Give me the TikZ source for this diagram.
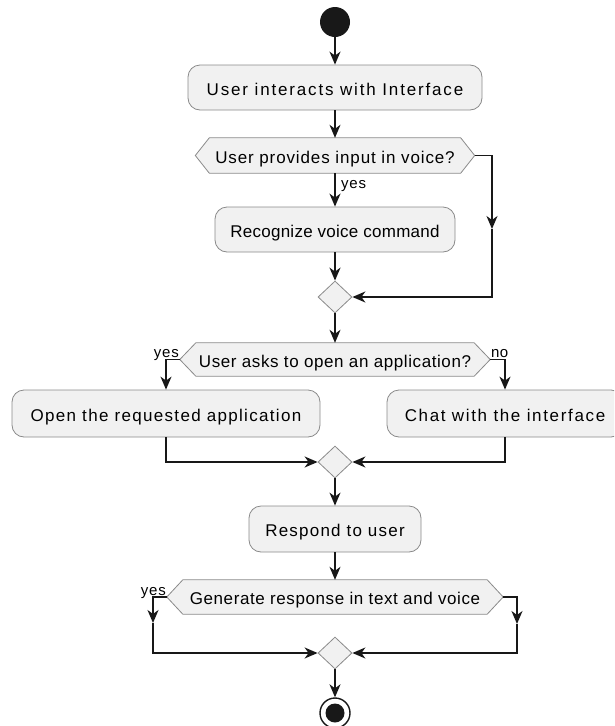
\documentclass[tikz,border=0pt]{standalone}
\usepackage{fontspec}
\setmainfont{Liberation Sans}
\usetikzlibrary{arrows.meta,shapes.geometric,backgrounds}

\definecolor{actfill}{HTML}{F1F1F1}
\definecolor{actline}{HTML}{8A8A8A}
\definecolor{flowc}{HTML}{181818}

% letter-spaced text
\newcommand{\lsp}[2]{{\addfontfeatures{LetterSpace=#1}#2}}
% hexagonal outline of a decision node (node name, tip width in pt)
\newcommand{\hexframe}[2]{%
  \draw[draw=actline, fill=actfill, line width=0.8pt]
    (#1.west) -- ([xshift=#2pt]#1.north west) -- ([xshift=-#2pt]#1.north east)
    -- (#1.east) -- ([xshift=-#2pt]#1.south east) -- ([xshift=#2pt]#1.south west) -- cycle;}

\begin{document}
\begin{tikzpicture}[x=1pt, y=-1pt,
  txt/.style={font=\fontsize{17}{20}\selectfont, text=black, inner sep=0pt,
              text height=16pt, text depth=0.8pt, align=center},
  act/.style 2 args={txt, draw=actline, fill=actfill, line width=0.8pt,
              rounded corners=12pt, minimum width=#1, minimum height=#2},
  decn/.style 2 args={txt, minimum width=#1, minimum height=#2},
  merge/.style={diamond, draw=actline, fill=actfill, line width=0.8pt,
              minimum width=34pt, minimum height=32pt, inner sep=0pt},
  lbl/.style={font=\fontsize{15}{17}\selectfont, text=black, inner sep=0pt},
  line/.style={draw=flowc, line width=1.4pt},
  link/.style={line, -{Stealth[length=13pt, width=11pt, inset=4pt]}}
]
\clip (0,0) rectangle (614,726);

% start / end
\node[circle, fill=flowc, minimum size=30pt, inner sep=0pt] (start) at (335,22) {};
\node[circle, draw=flowc, line width=1.4pt, fill=white, minimum size=30pt, inner sep=0pt] (end) at (335,713) {};
\node[circle, fill=flowc, minimum size=19pt, inner sep=0pt] (endcore) at (end) {};

% actions and decisions
\node[act={294pt}{45pt}] (box1) at (335,87.5) {\lsp{10.8}{User interacts with Interface}};
\node[decn={279pt}{35pt}] (dec1) at (335,155.5) {\lsp{5.2}{User provides input in voice?}};
\node[act={240pt}{45pt}] (box2) at (335,229.5) {\lsp{1.5}{Recognize voice command}};
\node[merge] (dia1) at (335,297) {};
\node[decn={310pt}{33pt}] (dec2) at (335,359.5) {\lsp{3.5}{User asks to open an application?}};
\node[act={308pt}{47pt}] (box3) at (166,413.5) {\lsp{7.8}{Open the requested application}};
\node[act={236pt}{47pt}] (box4) at (505,413.5) {\lsp{9.7}{Chat with the interface}};
\node[merge] (dia2) at (335,462) {};
\node[act={172pt}{46pt}] (box5) at (335,529) {\lsp{7.2}{Respond to user}};
\node[decn={336pt}{34pt}] (dec3) at (335,597) {\lsp{3.5}{Generate response in text and voice}};
\node[merge] (dia3) at (335,653) {};

\begin{scope}[on background layer]
  \hexframe{dec1}{14}
  \hexframe{dec2}{16}
  \hexframe{dec3}{16}
\end{scope}

% branch labels
\node[lbl, anchor=base west] (yes1) at (341,188) {\lsp{5}{yes}};
\node[lbl, anchor=base east] (yes2) at (179,357.5) {\lsp{5}{yes}};
\node[lbl, anchor=base west] (no2) at (491,357.5) {\lsp{3}{no}};
\node[lbl, anchor=base east] (yes3) at (166,595) {\lsp{5}{yes}};

% connectors
\coordinate (r1) at (492,229);
\coordinate (l3) at (153,623);
\coordinate (r3) at (517,624);

\draw[link] (start.south) -- (box1.north);
\draw[link] (box1.south) -- (dec1.north);
\draw[link] (dec1.south) -- (box2.north);
\draw[link] (box2.south) -- (dia1.north);
\draw[link] (dec1.east) -| (r1);
\draw[link] (r1) |- (dia1.east);
\draw[link] (dia1.south) -- (dec2.north);
\draw[link] (dec2.west) -| (box3.north);
\draw[link] (dec2.east) -| (box4.north);
\draw[link] (box3.south) |- (dia2.west);
\draw[link] (box4.south) |- (dia2.east);
\draw[link] (dia2.south) -- (box5.north);
\draw[link] (box5.south) -- (dec3.north);
\draw[link] (dec3.west) -| (l3);
\draw[link] (l3) |- (dia3.west);
\draw[link] (dec3.east) -| (r3);
\draw[link] (r3) |- (dia3.east);
\draw[link] (dia3.south) -- (end.north);
\end{tikzpicture}
\end{document}
